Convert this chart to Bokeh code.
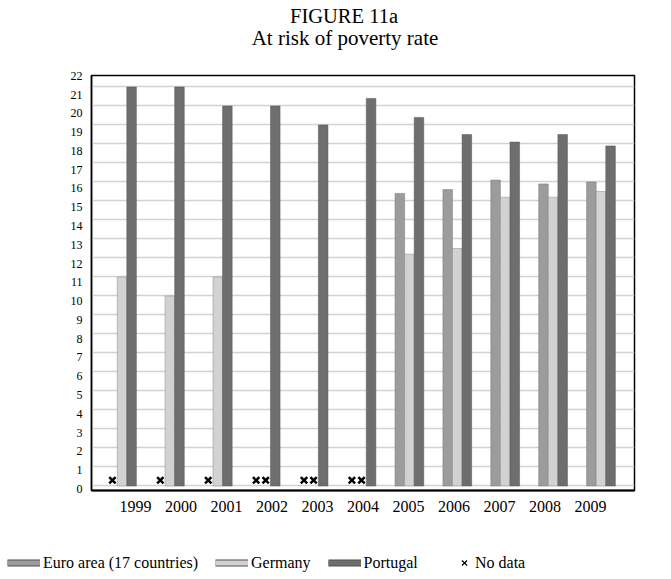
import math
from bokeh.plotting import figure
from bokeh.layouts import column
from bokeh.models import (ColumnDataSource, Range1d, LinearAxis, FixedTicker,
                          Legend, LegendItem, Label)
from bokeh.transform import dodge
from bokeh.embed import file_html
from bokeh.resources import INLINE

NaN = float("nan")

# ---- data ----
years = ["1999", "2000", "2001", "2002", "2003", "2004",
         "2005", "2006", "2007", "2008", "2009"]
euro_area = [NaN, NaN, NaN, NaN, NaN, NaN, 15.4, 15.6, 16.1, 15.9, 16.0]
germany = [11.0, 10.0, 11.0, NaN, NaN, NaN, 12.2, 12.5, 15.2, 15.2, 15.5]
portugal = [21.0, 21.0, 20.0, 20.0, 19.0, 20.4, 19.4, 18.5, 18.1, 18.5, 17.9]
y_ticks = list(range(0, 23))
series_names = ["Euro area (17 countries)", "Germany", "Portugal"]
no_data_label = "No data"
no_data_level = 0.3
figure_label = "FIGURE 11a"
chart_title = "At risk of poverty rate"

FONT = "Liberation Serif"
C_EURO, C_GER, C_POR = "#9c9c9c", "#d2d2d2", "#6e6e6e"


def bare(fig):
    fig.xgrid.visible = False
    fig.ygrid.visible = False
    fig.outline_line_color = None
    fig.background_fill_color = "white"
    fig.border_fill_color = "white"


def unalign(fig):
    if "frame_align" in fig.properties():
        fig.frame_align = False
        return True
    return False


# ---- header with the two title lines ----
head = figure(width=671, height=50, title=None, x_range=Range1d(0, 1), y_range=Range1d(0, 1),
              x_axis_location=None, y_axis_location=None, min_border=0,
              output_backend="svg", toolbar_location=None)
bare(head)
free = unalign(head)
dx = 0 if free else -91
head.add_layout(Label(x=343.5 + dx, y=35, x_units="screen", y_units="screen", text=figure_label,
                      text_align="center", text_baseline="middle", text_font=FONT,
                      text_font_size="20.5px", text_color="black"))
head.add_layout(Label(x=344.5 + dx, y=13, x_units="screen", y_units="screen", text=chart_title,
                      text_align="center", text_baseline="middle", text_font=FONT,
                      text_font_size="21px", text_color="black"))

# ---- main chart ----
idx = list(range(len(years)))
src = ColumnDataSource(dict(idx=idx, euro=euro_area, germany=germany, portugal=portugal))
nd_euro = ColumnDataSource(dict(idx=[i for i, v in zip(idx, euro_area) if math.isnan(v)],
                                y=[no_data_level for v in euro_area if math.isnan(v)]))
nd_ger = ColumnDataSource(dict(idx=[i for i, v in zip(idx, germany) if math.isnan(v)],
                               y=[no_data_level for v in germany if math.isnan(v)]))

p = figure(frame_width=543, frame_height=415, title=None,
           x_range=Range1d(-0.637, 10.70), y_range=Range1d(-0.237, 21.605),
           x_axis_location=None, y_axis_location=None,
           output_backend="svg", toolbar_location=None,
           min_border_left=91, min_border_right=37, min_border_top=25, min_border_bottom=40)
unalign(p)

p.background_fill_color = "white"
p.border_fill_color = "white"
p.outline_line_color = "black"
p.outline_line_width = 1.5

p.xgrid.visible = False
p.ygrid.ticker = FixedTicker(ticks=list(range(0, 22)))
p.ygrid.grid_line_color = "#d2d2d2"
p.ygrid.grid_line_width = 1.5

p.extra_y_ranges = {"ylab": Range1d(-0.09, 22.02)}
yax = LinearAxis(y_range_name="ylab", ticker=FixedTicker(ticks=y_ticks))
yax.major_tick_line_color = None
yax.minor_tick_line_color = None
yax.axis_line_color = "black"
yax.axis_line_width = 1.5
yax.major_label_standoff = 3
yax.major_label_text_font = FONT
yax.major_label_text_font_size = "12px"
yax.major_label_text_color = "black"
p.add_layout(yax, "left")

p.extra_x_ranges = {"lab": Range1d(-0.967, 10.967)}
xax = LinearAxis(x_range_name="lab", ticker=FixedTicker(ticks=idx),
                 major_label_overrides={i: y for i, y in zip(idx, years)})
xax.major_tick_line_color = None
xax.minor_tick_line_color = None
xax.axis_line_color = "black"
xax.axis_line_width = 2
xax.major_label_standoff = 4
xax.major_label_text_font = FONT
xax.major_label_text_font_size = "16px"
xax.major_label_text_color = "black"
p.add_layout(xax, "below")

W = 0.2
p.vbar(x=dodge("idx", -W, range=p.x_range), top="euro", bottom=0, width=W,
       source=src, fill_color=C_EURO, line_color="#777777", line_width=0.5)
p.vbar(x=dodge("idx", 0, range=p.x_range), top="germany", bottom=0, width=W,
       source=src, fill_color=C_GER, line_color="#888888", line_width=0.5)
p.vbar(x=dodge("idx", W, range=p.x_range), top="portugal", bottom=0, width=W,
       source=src, fill_color=C_POR, line_color="#555555", line_width=0.5)
p.scatter(x=dodge("idx", -W, range=p.x_range), y="y", source=nd_euro,
          marker="x", size=9, line_color="black", line_width=2.5)
p.scatter(x=dodge("idx", 0, range=p.x_range), y="y", source=nd_ger,
          marker="x", size=9, line_color="black", line_width=2.5)

# ---- legend strip (key swatches only, nothing plotted) ----
foot = figure(width=671, height=49, title=None, x_range=Range1d(0, 1), y_range=Range1d(0, 1),
              x_axis_location=None, y_axis_location=None, min_border=0,
              output_backend="svg", toolbar_location=None)
bare(foot)
unalign(foot)
sw = []
for c in (C_EURO, C_GER, C_POR):
    edge = foot.line(x=[NaN], y=[NaN], line_color="#505050", line_width=7)
    fill = foot.line(x=[NaN], y=[NaN], line_color=c, line_width=5)
    sw.append([edge, fill])
nd_sw = foot.scatter(x=[NaN], y=[NaN], marker="x", size=7, line_color="black", line_width=1.2)

lx = 7 if free else 7
leg1 = Legend(items=[LegendItem(label=n, renderers=r) for n, r in zip(series_names, sw)],
              orientation="horizontal", location=(lx, 7),
              glyph_width=33, glyph_height=19, label_standoff=3, spacing=17,
              padding=0, margin=0, border_line_alpha=0, background_fill_alpha=0,
              label_text_font=FONT, label_text_font_size="16px", label_text_color="black")
leg2 = Legend(items=[LegendItem(label=no_data_label, renderers=[nd_sw])],
              orientation="horizontal", location=(lx + 448, 7),
              glyph_width=18, glyph_height=19, label_standoff=2,
              padding=0, margin=0, border_line_alpha=0, background_fill_alpha=0,
              label_text_font=FONT, label_text_font_size="16px", label_text_color="black")
foot.add_layout(leg1)
foot.add_layout(leg2)

layout = column(head, p, foot, spacing=0)
open("out.html", "w").write(file_html(layout, INLINE))
